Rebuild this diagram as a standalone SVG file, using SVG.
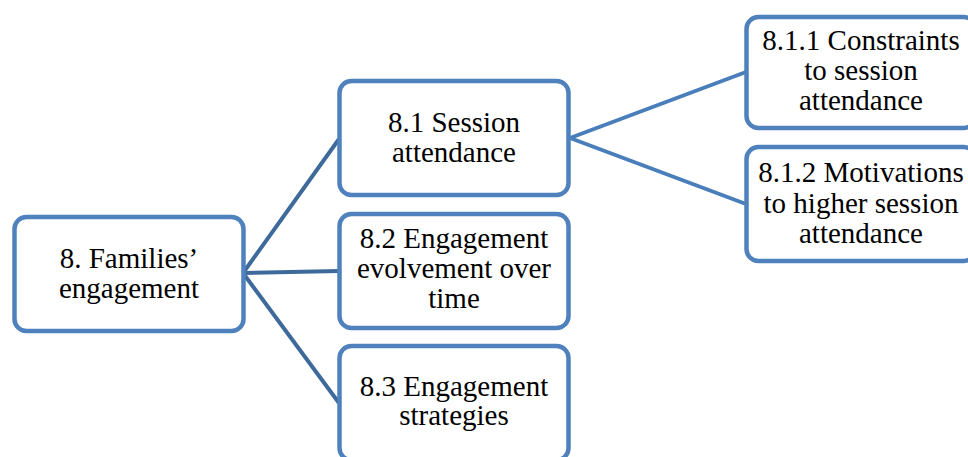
<svg xmlns="http://www.w3.org/2000/svg" width="968" height="457" viewBox="0 0 968 457">
  <style>
    .box { fill: #ffffff; stroke: #4F81BD; stroke-width: 4.5; }
    .l1 { stroke: #3E6A9B; stroke-width: 4; fill: none; }
    .l2 { stroke: #4A7EBB; stroke-width: 4; fill: none; }
    .lbl { font-family: "Liberation Serif", "Times New Roman", Tinos, "DejaVu Serif", serif; font-size: 29px; fill: #000000; text-anchor: middle; }
  </style>
  <rect width="968" height="457" fill="#ffffff"/>

  <!-- connectors: root to second level, 8.1 to third level -->
  <g id="connectors">
    <line class="l1" x1="243" y1="273" x2="339" y2="139"/>
    <line class="l1" x1="243" y1="273" x2="339" y2="271"/>
    <line class="l1" x1="243" y1="273" x2="339" y2="403"/>
    <line class="l2" x1="570" y1="138" x2="746" y2="72"/>
    <line class="l2" x1="570" y1="138" x2="746" y2="204"/>
  </g>

  <!-- root -->
  <g id="node-8">
    <rect class="box" x="14.5" y="217" width="229" height="114" rx="12"/>
    <text class="lbl" x="129" y="268">8. Families’</text>
    <text class="lbl" x="129" y="298">engagement</text>
  </g>

  <!-- second level -->
  <g id="node-8-1">
    <rect class="box" x="339.5" y="81" width="229" height="114" rx="12"/>
    <text class="lbl" x="454" y="132">8.1 Session</text>
    <text class="lbl" x="454" y="162">attendance</text>
  </g>
  <g id="node-8-2">
    <rect class="box" x="339.5" y="214" width="229" height="114" rx="12"/>
    <text class="lbl" x="454" y="248">8.2 Engagement</text>
    <text class="lbl" x="454" y="278">evolvement over</text>
    <text class="lbl" x="454" y="308">time</text>
  </g>
  <g id="node-8-3">
    <rect class="box" x="339.5" y="346" width="229" height="114" rx="12"/>
    <text class="lbl" x="454" y="396">8.3 Engagement</text>
    <text class="lbl" x="454" y="425">strategies</text>
  </g>

  <!-- third level -->
  <g id="node-8-1-1">
    <rect class="box" x="746.5" y="17" width="229" height="111" rx="12"/>
    <text class="lbl" x="861" y="50">8.1.1 Constraints</text>
    <text class="lbl" x="861" y="80">to session</text>
    <text class="lbl" x="861" y="110">attendance</text>
  </g>
  <g id="node-8-1-2">
    <rect class="box" x="746.5" y="147" width="229" height="114" rx="12"/>
    <text class="lbl" x="861" y="182">8.1.2 Motivations</text>
    <text class="lbl" x="861" y="213">to higher session</text>
    <text class="lbl" x="861" y="243">attendance</text>
  </g>
</svg>
